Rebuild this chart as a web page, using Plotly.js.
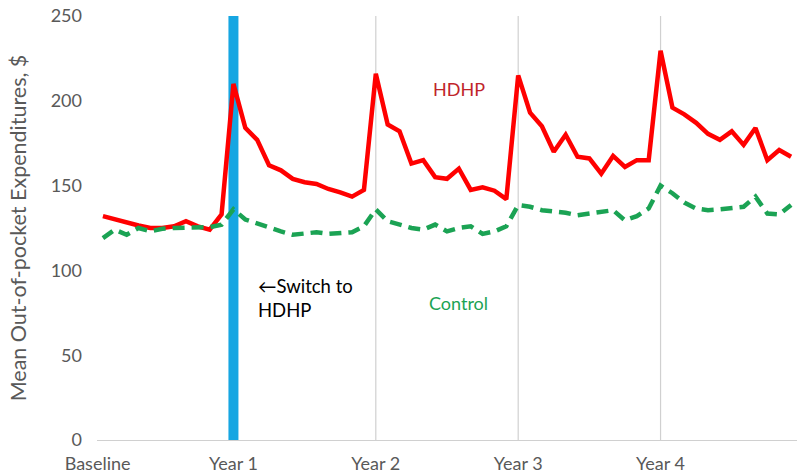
<!DOCTYPE html>
<html>
<head>
<meta charset="utf-8">
<script src="https://cdn.plot.ly/plotly-3.0.1.min.js"></script>
<style>
  html, body { margin: 0; padding: 0; background: #fff; }
  #chart { width: 800px; height: 476px; }
</style>
</head>
<body>
<div id="chart"></div>
<script>
// month index 0..58 (Year 1 switch at month 11)
const months = Array.from({ length: 59 }, (_, i) => i);

const hdhp = [
  132, 130, 128.5, 126.5, 125, 125, 126, 129, 126, 124, 133,
  210, 184, 177, 162, 159, 154, 152, 151, 148, 146, 143.5, 147.5,
  216, 186, 182, 163, 165, 155, 154, 160, 147.5, 149, 147, 142,
  215, 193, 185, 170, 180, 167, 166, 157, 167.5, 161, 165, 165,
  229.5, 196, 192, 187, 180.5, 177, 182, 174, 184, 165, 171, 167
];

const control = [
  119, 124, 121, 125, 123, 124.5, 125, 125, 125, 125.5, 127,
  136, 130, 127.5, 125, 123, 121, 121.5, 122.5, 121.5, 122, 122.5, 126,
  136, 129, 127, 125, 124, 127, 123, 125, 126, 121.5, 123, 126,
  138.5, 137.5, 135.5, 135, 134, 132.5, 133.5, 135, 135.5, 129.5, 132, 136.5,
  150, 145.5, 140, 136.5, 135.5, 136, 136.5, 137.5, 143.5, 133.5, 133, 138.5
];

const tickPos = [-0.45, 11, 23, 35, 47];
const tickText = ['Baseline', 'Year 1', 'Year 2', 'Year 3', 'Year 4'];
const yearLines = [23, 35, 47];
const switchMonth = 11;

const font = 'Lato, "Open Sans", sans-serif';

const traces = [
  {
    x: months, y: hdhp, name: 'HDHP',
    type: 'scatter', mode: 'lines',
    line: { color: '#ff0000', width: 4.5 }
  },
  {
    x: months, y: control, name: 'Control',
    type: 'scatter', mode: 'lines',
    line: { color: '#1ba354', width: 4.5, dash: '12px,7px' }
  }
];

const shapes = yearLines.map(m => ({
  type: 'line', xref: 'x', yref: 'y',
  x0: m, x1: m, y0: 0, y1: 250,
  line: { color: '#d0d0d0', width: 1.2 },
  layer: 'below'
}));
shapes.push({
  type: 'line', xref: 'x', yref: 'y',
  x0: switchMonth, x1: switchMonth, y0: 0, y1: 250,
  line: { color: '#16a6e2', width: 10 },
  layer: 'below'
});

const layout = {
  width: 800, height: 476,
  margin: { l: 97, r: 3, t: 16, b: 36 },
  paper_bgcolor: '#fff', plot_bgcolor: '#fff',
  showlegend: false,
  font: { family: font, size: 18, color: '#595959' },
  xaxis: {
    range: [-0.5, 58.5],
    tickmode: 'array', tickvals: tickPos, ticktext: tickText,
    showgrid: false, zeroline: false,
    showline: true, linecolor: '#d0d0d0', linewidth: 1.2,
    ticks: '', ticklabelstandoff: 7,
    tickfont: { size: 18, color: '#595959' }
  },
  yaxis: {
    range: [0, 250],
    tickvals: [0, 50, 100, 150, 200, 250],
    showgrid: false, zeroline: false, showline: false,
    ticks: '', ticklabelstandoff: 14,
    tickfont: { size: 18, color: '#595959' },
    title: { text: 'Mean Out-of-pocket Expenditures, $', font: { size: 21.5, color: '#595959' }, standoff: 18 }
  },
  shapes: shapes,
  annotations: [
    { x: 30, y: 207, xref: 'x', yref: 'y', text: 'HDHP', showarrow: false,
      font: { size: 18, color: '#c0242a' } },
    { x: 30, y: 81, xref: 'x', yref: 'y', text: 'Control', showarrow: false,
      font: { size: 18, color: '#1ba354' } },
    { x: 12.9, y: 84, xref: 'x', yref: 'y', xanchor: 'left', align: 'left',
      text: '←Switch to<br>HDHP', showarrow: false,
      font: { size: 18.5, color: '#000' } }
  ]
};

Plotly.newPlot('chart', traces, layout, { staticPlot: true });
</script>
</body>
</html>
